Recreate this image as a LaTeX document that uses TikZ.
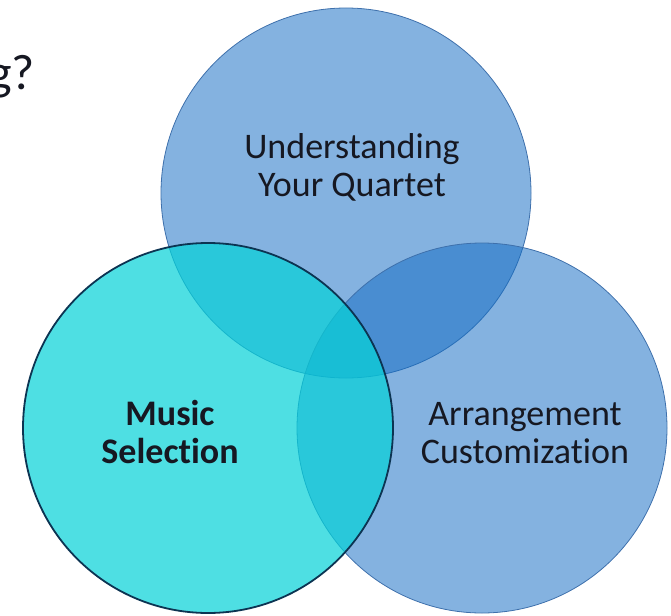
\documentclass[tikz,border=0pt]{standalone}
\usepackage{fontspec}
\setmainfont{Carlito}[RawFeature=-liga]
\usepackage{xcolor}
\usepackage{tikz}
\definecolor{ringblue}{RGB}{19,108,195}
\definecolor{ringedge}{RGB}{62,112,172}
\definecolor{musicteal}{RGB}{5,210,216}
\definecolor{selectedge}{RGB}{12,52,82}
\definecolor{labelink}{RGB}{22,24,34}
\tikzset{ring/.style={circle,minimum size=370pt,inner sep=0pt,draw=ringedge,line width=0.8pt,fill=ringblue,fill opacity=0.52},
ringtext/.style={font=\fontsize{36}{38}\selectfont,align=center,text=labelink,inner sep=0pt}}

\begin{document}
\begin{tikzpicture}[x=1pt,y=-1pt]
\useasboundingbox(0,0)rectangle(671,615);

\node[ring](quartet)at(346,193){};
\node[ring](arrange)at(482,428){};
\node[ring,draw=selectedge,line width=1.8pt,fill=musicteal,fill opacity=0.71](music)at(208,428){};

\node[ringtext](quartettext)at(352,167){Understanding\\Your Quartet};
\node[ringtext,font=\fontsize{36}{38}\selectfont\bfseries](musictext)at(170,432){Music\\Selection};
\node[ringtext](arrangetext)at(525,433){Arrangement\\Customization};

\node[font=\fontsize{50}{60}\selectfont,text=labelink,inner sep=0pt,anchor=base east](question)at(35,90){g?};
\end{tikzpicture}
\end{document}
